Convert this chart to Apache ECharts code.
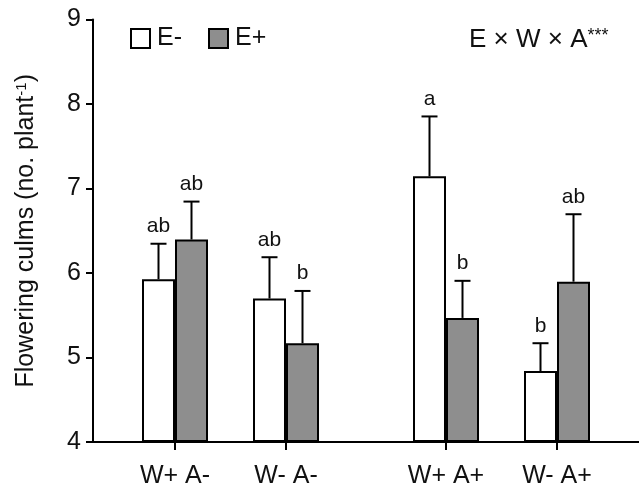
<!DOCTYPE html>
<html>
<head>
<meta charset="utf-8">
<script src="https://cdn.jsdelivr.net/npm/echarts@6/dist/echarts.min.js"></script>
<style>html,body{margin:0;padding:0;background:#fff}#c{width:639px;height:489px}</style>
</head>
<body>
<div id="c"></div>
<script>
const categories = ['W+ A-', 'W- A-', 'W+ A+', 'W- A+'];
const eMinus = [5.92, 5.69, 7.14, 4.83];
const eMinusSE = [0.42, 0.49, 0.71, 0.33];
const eMinusLetters = ['ab', 'ab', 'a', 'b'];
const ePlus = [6.39, 5.16, 5.46, 5.89];
const ePlusSE = [0.45, 0.62, 0.44, 0.80];
const ePlusLetters = ['ab', 'b', 'b', 'ab'];
const yTicks = [4, 5, 6, 7, 8, 9];

const FONT = 'Liberation Sans';
const TXT = '#111';
const BAR_W = 33;
const GRAY = '#8e8e8e';
const FS = 25;

const chart = echarts.init(document.getElementById('c'), null, {renderer: 'canvas'});

const groups = [[0, 1], [2, 3]];
const gridTop = 19.5, gridBottom = 47;

function errSeries(gi, values, ses, letters, sign) {
  const idx = groups[gi];
  return {
    type: 'custom',
    xAxisIndex: gi + 1, yAxisIndex: gi + 1,
    z: 5,
    data: idx.map((k, j) => [j, values[k], values[k] + ses[k]]),
    renderItem: function (params, api) {
      const base = api.coord([api.value(0), api.value(1)]);
      const top = api.coord([api.value(0), api.value(2)]);
      const x = base[0] + sign * BAR_W / 2;
      const cap = 8;
      return {
        type: 'group',
        children: [
          {type: 'line', shape: {x1: x, y1: base[1], x2: x, y2: top[1]}, style: {stroke: '#000', lineWidth: 2}},
          {type: 'line', shape: {x1: x - cap, y1: top[1], x2: x + cap, y2: top[1]}, style: {stroke: '#000', lineWidth: 2}},
          {type: 'text', x: x, y: top[1] - 7, style: {text: letters[idx[params.dataIndex]], fontFamily: FONT, fontSize: 21, fill: TXT, align: 'center', verticalAlign: 'bottom'}}
        ]
      };
    }
  };
}

function barSeries(gi, name, values, color) {
  const idx = groups[gi];
  return {
    type: 'bar', name: name,
    xAxisIndex: gi + 1, yAxisIndex: gi + 1,
    barWidth: BAR_W, barGap: '0%',
    data: idx.map(k => values[k]),
    itemStyle: {color: color, borderColor: '#000', borderWidth: 2},
    z: 3
  };
}

const catAxis = (gi) => ({
  type: 'category', gridIndex: gi,
  data: groups[gi - 1].map(k => categories[k]),
  axisLine: {show: false},
  axisTick: {show: true, alignWithLabel: true, length: 9, lineStyle: {color: '#000', width: 2}},
  axisLabel: {fontFamily: FONT, fontSize: FS, color: TXT, margin: 23},
  splitLine: {show: false}
});
const hiddenY = (gi) => ({type: 'value', gridIndex: gi, min: 4, max: 9, show: false});

const option = {
  animation: false,
  backgroundColor: '#fff',
  textStyle: {fontFamily: FONT},
  legend: {
    left: 125, top: 21,
    data: ['E-', 'E+'],
    itemWidth: 19, itemHeight: 19, itemGap: 26,
    icon: 'rect',
    itemStyle: {borderColor: '#000', borderWidth: 2},
    textStyle: {fontFamily: FONT, fontSize: FS, color: TXT, padding: [0, 0, 0, 2]}
  },
  grid: [
    {left: 93, right: 0, top: gridTop, bottom: gridBottom},
    {left: 119.5, width: 222, top: gridTop, bottom: gridBottom},
    {left: 390.5, width: 222, top: gridTop, bottom: gridBottom}
  ],
  xAxis: [
    {type: 'value', gridIndex: 0, min: 0, max: 1, axisLine: {show: true, lineStyle: {color: '#000', width: 2}}, axisTick: {show: false}, axisLabel: {show: false}, splitLine: {show: false}},
    catAxis(1), catAxis(2)
  ],
  yAxis: [
    {
      type: 'value', gridIndex: 0, min: yTicks[0], max: yTicks[yTicks.length - 1], interval: 1,
      name: 'Flowering culms (no. plant{sup|-1})',
      nameLocation: 'middle', nameRotate: 90, nameGap: 54,
      nameTextStyle: {fontFamily: FONT, fontSize: FS, color: TXT, rich: {sup: {fontFamily: FONT, fontSize: 15, verticalAlign: 'top', lineHeight: 15}}},
      axisLine: {show: true, lineStyle: {color: '#000', width: 2}},
      axisTick: {show: true, length: 7, lineStyle: {color: '#000', width: 2}},
      axisLabel: {fontFamily: FONT, fontSize: FS, color: TXT, margin: 12},
      splitLine: {show: false}
    },
    hiddenY(1), hiddenY(2)
  ],
  graphic: [
    {type: 'text', left: 469, top: 27, style: {text: 'E × W × A{s|***}', fontFamily: FONT, fontSize: 26, fill: TXT, rich: {s: {fontFamily: FONT, fontSize: 18, verticalAlign: 'top', fill: TXT}}}}
  ],
  series: [
    barSeries(0, 'E-', eMinus, '#fff'), barSeries(0, 'E+', ePlus, GRAY),
    barSeries(1, 'E-', eMinus, '#fff'), barSeries(1, 'E+', ePlus, GRAY),
    errSeries(0, eMinus, eMinusSE, eMinusLetters, -1), errSeries(0, ePlus, ePlusSE, ePlusLetters, 1),
    errSeries(1, eMinus, eMinusSE, eMinusLetters, -1), errSeries(1, ePlus, ePlusSE, ePlusLetters, 1)
  ]
};
chart.setOption(option);
</script>
</body>
</html>
